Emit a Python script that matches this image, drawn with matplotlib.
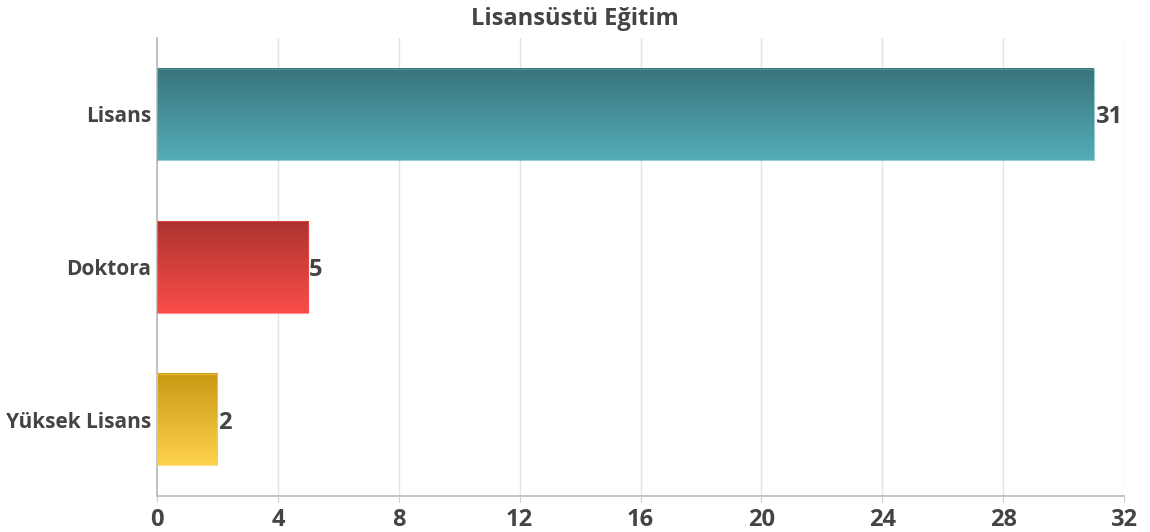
import matplotlib
matplotlib.use("Agg")
import matplotlib.pyplot as plt
import numpy as np
from matplotlib.colors import LinearSegmentedColormap

categories = ["Lisans", "Doktora", "Yüksek Lisans"]
values = [31, 5, 2]
top_colors = ["#38737b", "#ad332f", "#c99912"]
bottom_colors = ["#54adb8", "#fa4d49", "#fdd24c"]
xticks = [0, 4, 8, 12, 16, 20, 24, 28, 32]
title = "Lisansüstü Eğitim"

plt.rcParams['font.family'] = ['Open Sans', 'DejaVu Sans']
txt = "#444444"

fig = plt.figure(figsize=(11.5, 5.32), dpi=100)
ax = fig.add_axes([157/1150, 1-496/532, 967/1150, 458/532])
ax.set_xlim(0, 32)
ax.set_ylim(2.5, -0.5)

h = 0.6
for i, (cat, v) in enumerate(zip(categories, values)):
    cmap = LinearSegmentedColormap.from_list("g", [top_colors[i], bottom_colors[i]])
    grad = np.linspace(0, 1, 256).reshape(-1, 1)
    ax.imshow(grad, cmap=cmap, aspect='auto', extent=[0, v, i + h/2, i - h/2], zorder=2, interpolation='bicubic')
    ax.add_patch(plt.Rectangle((0, i - h/2), v, h, fill=False, edgecolor=bottom_colors[i], lw=0.8, alpha=0.6, zorder=3))
    ax.text(v + 0.03, i + 0.02, str(v), va='center', ha='left', fontsize=17, fontweight='bold', color=txt, zorder=4)

ax.set_xlim(0, 32)
ax.set_ylim(2.5, -0.5)
ax.set_yticks(range(len(categories)))
ax.set_yticklabels(categories, fontsize=15, fontweight='bold', color=txt)
ax.set_xticks(xticks)
ax.set_xticklabels([str(t) for t in xticks], fontsize=17, fontweight='bold', color=txt)
ax.tick_params(axis='y', length=0, pad=4)
ax.tick_params(axis='x', length=4, color='#cccccc', pad=5)
ax.grid(axis='x', color='#e3e3e3', lw=1, zorder=0)
ax.set_axisbelow(True)
for s in ['top', 'right']:
    ax.spines[s].set_visible(False)
ax.spines['left'].set_color('#bbbbbb')
ax.spines['bottom'].set_color('#bbbbbb')
ax.spines['left'].set_linewidth(1.2)
ax.spines['bottom'].set_linewidth(1.2)

fig.text(0.5, 1-19/532, title, ha='center', va='center', fontsize=17, fontweight='bold', color=txt)

fig.savefig("out.png", dpi=100)
